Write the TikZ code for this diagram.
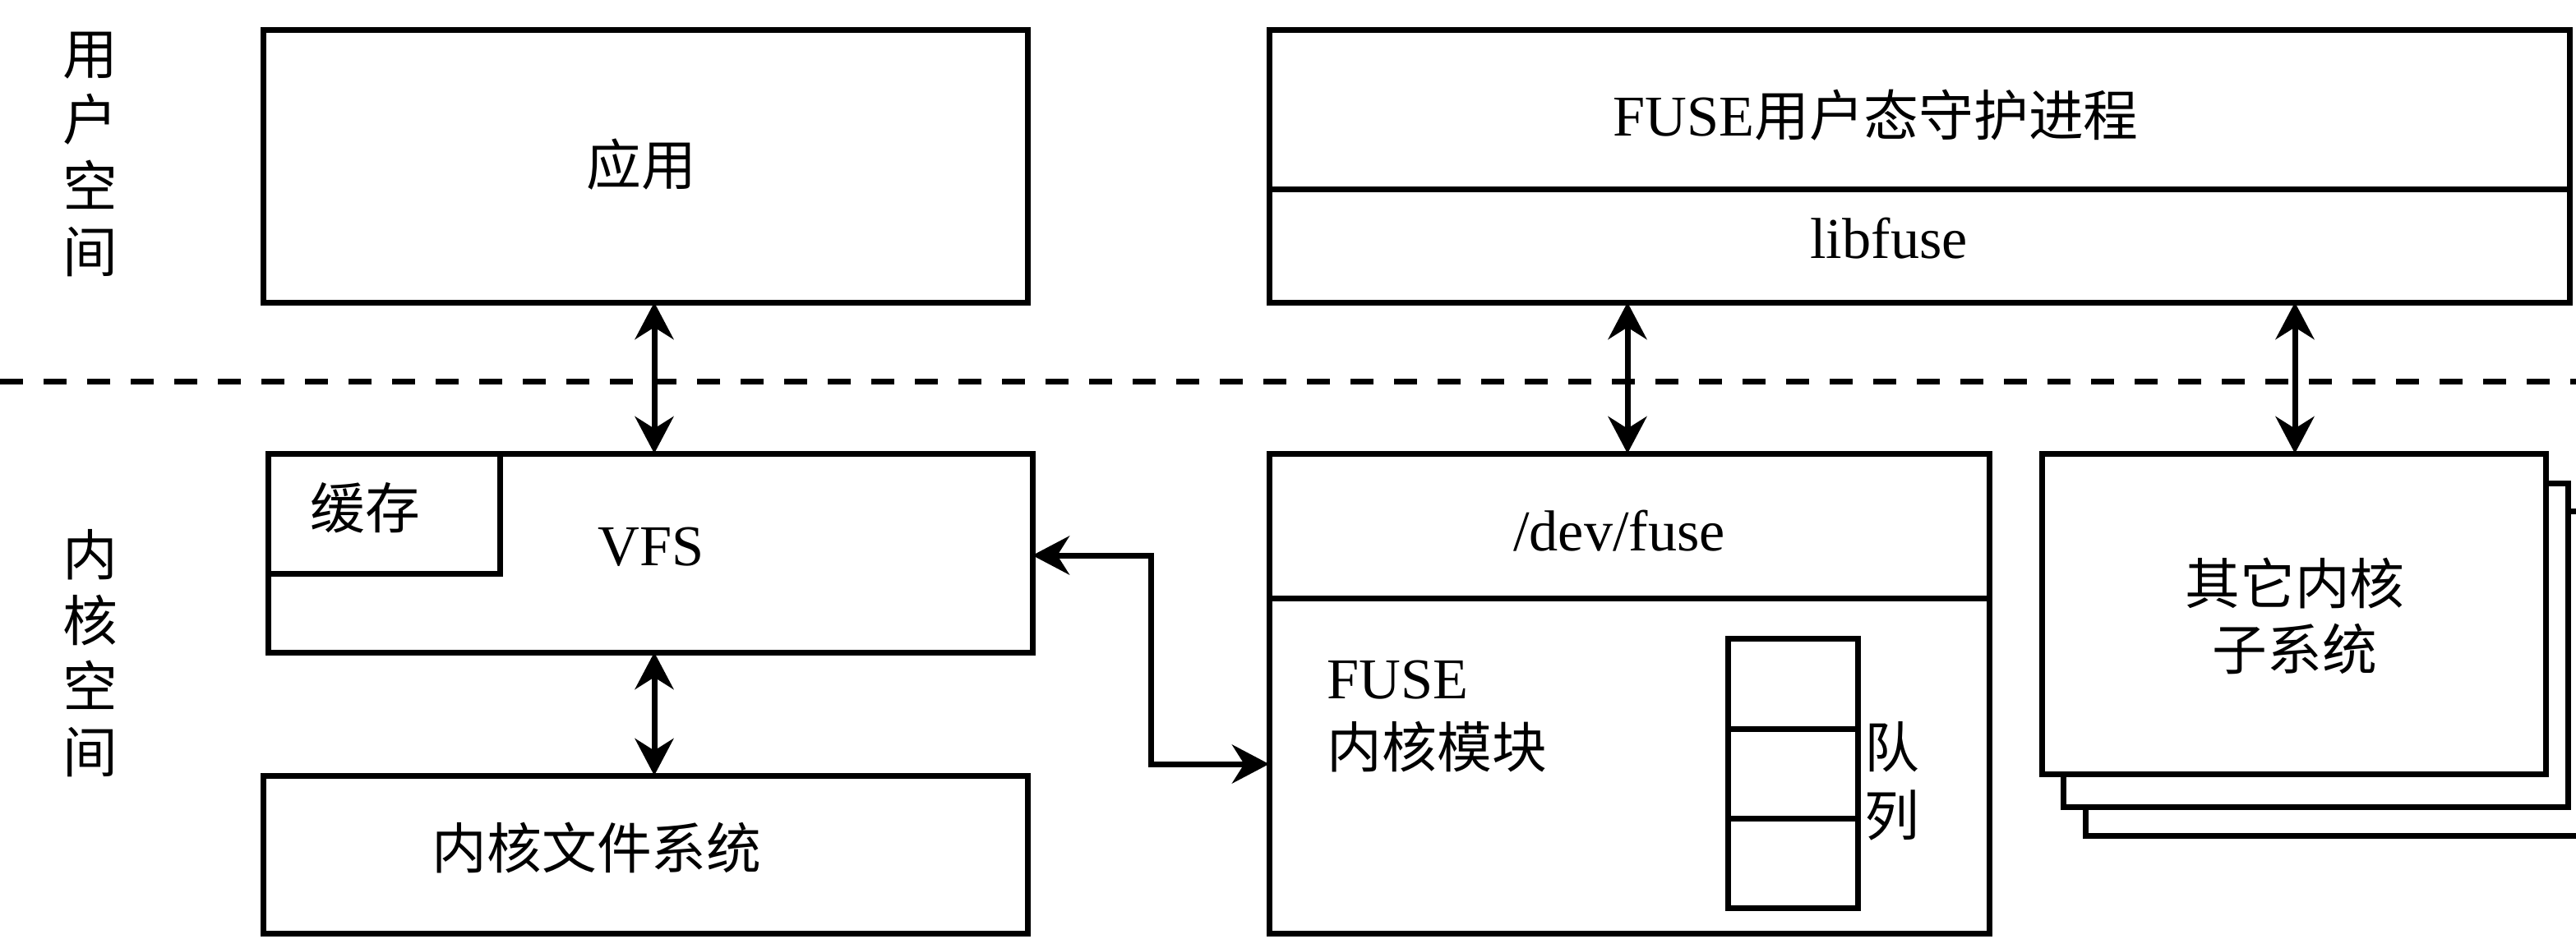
\documentclass[tikz,border=0pt]{standalone}
\usepackage{fontspec}
\setmainfont{Liberation Serif}
\newfontfamily\cjk[Scale=0.95]{Noto Sans CJK SC}
\usetikzlibrary{arrows.meta,calc}
\begin{document}
\begin{tikzpicture}[
  font=\fontsize{20}{24}\selectfont,
  box/.style={draw=black, line width=0.07cm, fill=white, rectangle, outer sep=0pt, inner sep=0pt, anchor=north west},
  txt/.style={inner sep=0pt, align=center},
  dbl/.style={line width=0.07cm, {Stealth[length=0.45cm,width=0.47cm]}-{Stealth[length=0.45cm,width=0.47cm]}},
  sep/.style={line width=0.07cm},
]
\useasboundingbox (0,0) rectangle (31.34,-11.42);
\clip (0,0) rectangle (31.34,-11.42);

% dashed separator
\draw[line width=0.07cm, dash pattern=on 0.28cm off 0.25cm] (0,-4.64) -- (31.34,-4.64);

% left labels
\node[txt, font=\fontsize{20}{22.8}\cjk] (us) at (1.10,-1.88) {用\\户\\空\\间};
\node[txt, font=\fontsize{20}{22.8}\cjk] (ks) at (1.10,-7.95) {内\\核\\空\\间};

% user space boxes
\node[box, minimum width=9.30cm, minimum height=3.32cm] (app) at (3.20,-0.36) {};
\node[txt] (apptxt) at (7.80,-2.00) {\cjk 应用};

\node[box, minimum width=15.82cm, minimum height=3.32cm] (daemon) at (15.44,-0.36) {};
\draw[sep] (daemon.west |- 0,-2.30) coordinate (dl) -- (daemon.east |- 0,-2.30) coordinate (dr);
\node[txt] (daemontxt) at (22.82,-1.40) {FUSE{\cjk 用户态守护进程}};
\node[txt] (libfuse) at (22.98,-2.90) {libfuse};

% VFS
\node[box, minimum width=9.30cm, minimum height=2.42cm] (vfs) at (3.26,-5.52) {};
\node[box, minimum width=2.82cm, minimum height=1.46cm] (cache) at (3.26,-5.52) {};
\node[txt] (cachetxt) at (4.44,-6.18) {\cjk 缓存};
\node[txt] (vfstxt) at (7.92,-6.66) {VFS};

% kernel file system
\node[box, minimum width=9.30cm, minimum height=1.92cm] (kfs) at (3.20,-9.44) {};
\node[txt] (kfstxt) at (7.26,-10.32) {\cjk 内核文件系统};

% /dev/fuse + FUSE kernel module
\node[box, minimum width=8.76cm, minimum height=5.84cm] (dev) at (15.44,-5.52) {};
\draw[sep] (dev.west |- 0,-7.28) -- (dev.east |- 0,-7.28);
\node[txt] (devtxt) at (19.70,-6.46) {/dev/fuse};
\node[txt, align=left, anchor=west, font=\fontsize{20}{23.8}\selectfont] (modtxt) at (16.14,-8.72) {FUSE\\{\cjk 内核模块}};

% queue
\node[box, minimum width=1.58cm, minimum height=1.10cm] (q1) at (21.02,-7.77) {};
\node[box, minimum width=1.58cm, minimum height=1.09cm] (q2) at (21.02,-8.87) {};
\node[box, minimum width=1.58cm, minimum height=1.09cm] (q3) at (21.02,-9.96) {};
\node[txt, font=\fontsize{20}{23.6}\cjk] (qtxt) at (23.02,-9.51) {队\\列};

% other kernel subsystems (stacked)
\node[box, minimum width=6.43cm, minimum height=3.95cm] (o3) at (25.37,-6.22) {};
\node[box, minimum width=6.14cm, minimum height=3.94cm] (o2) at (25.10,-5.88) {};
\node[box, minimum width=6.13cm, minimum height=3.90cm] (o1) at (24.84,-5.52) {};
\node[txt, font=\fontsize{20}{22.8}\cjk] (otxt) at (27.92,-7.50) {其它内核\\子系统};

% connectors
\coordinate (xa) at (7.96,0);
\coordinate (xb) at (19.80,0);
\coordinate (xc) at (27.92,0);
\draw[dbl] (app.south -| xa) -- (vfs.north -| xa);
\draw[dbl] (vfs.south -| xa) -- (kfs.north -| xa);
\draw[dbl] (daemon.south -| xb) -- (dev.north -| xb);
\draw[dbl] (daemon.south -| xc) -- (o1.north -| xc);
\coordinate (ya) at (0,-6.76);
\coordinate (yb) at (0,-9.30);
\draw[dbl] (vfs.east |- ya) -- (14.00,-6.76) -- (14.00,-9.30) -- (dev.west |- yb);
\end{tikzpicture}
\end{document}
